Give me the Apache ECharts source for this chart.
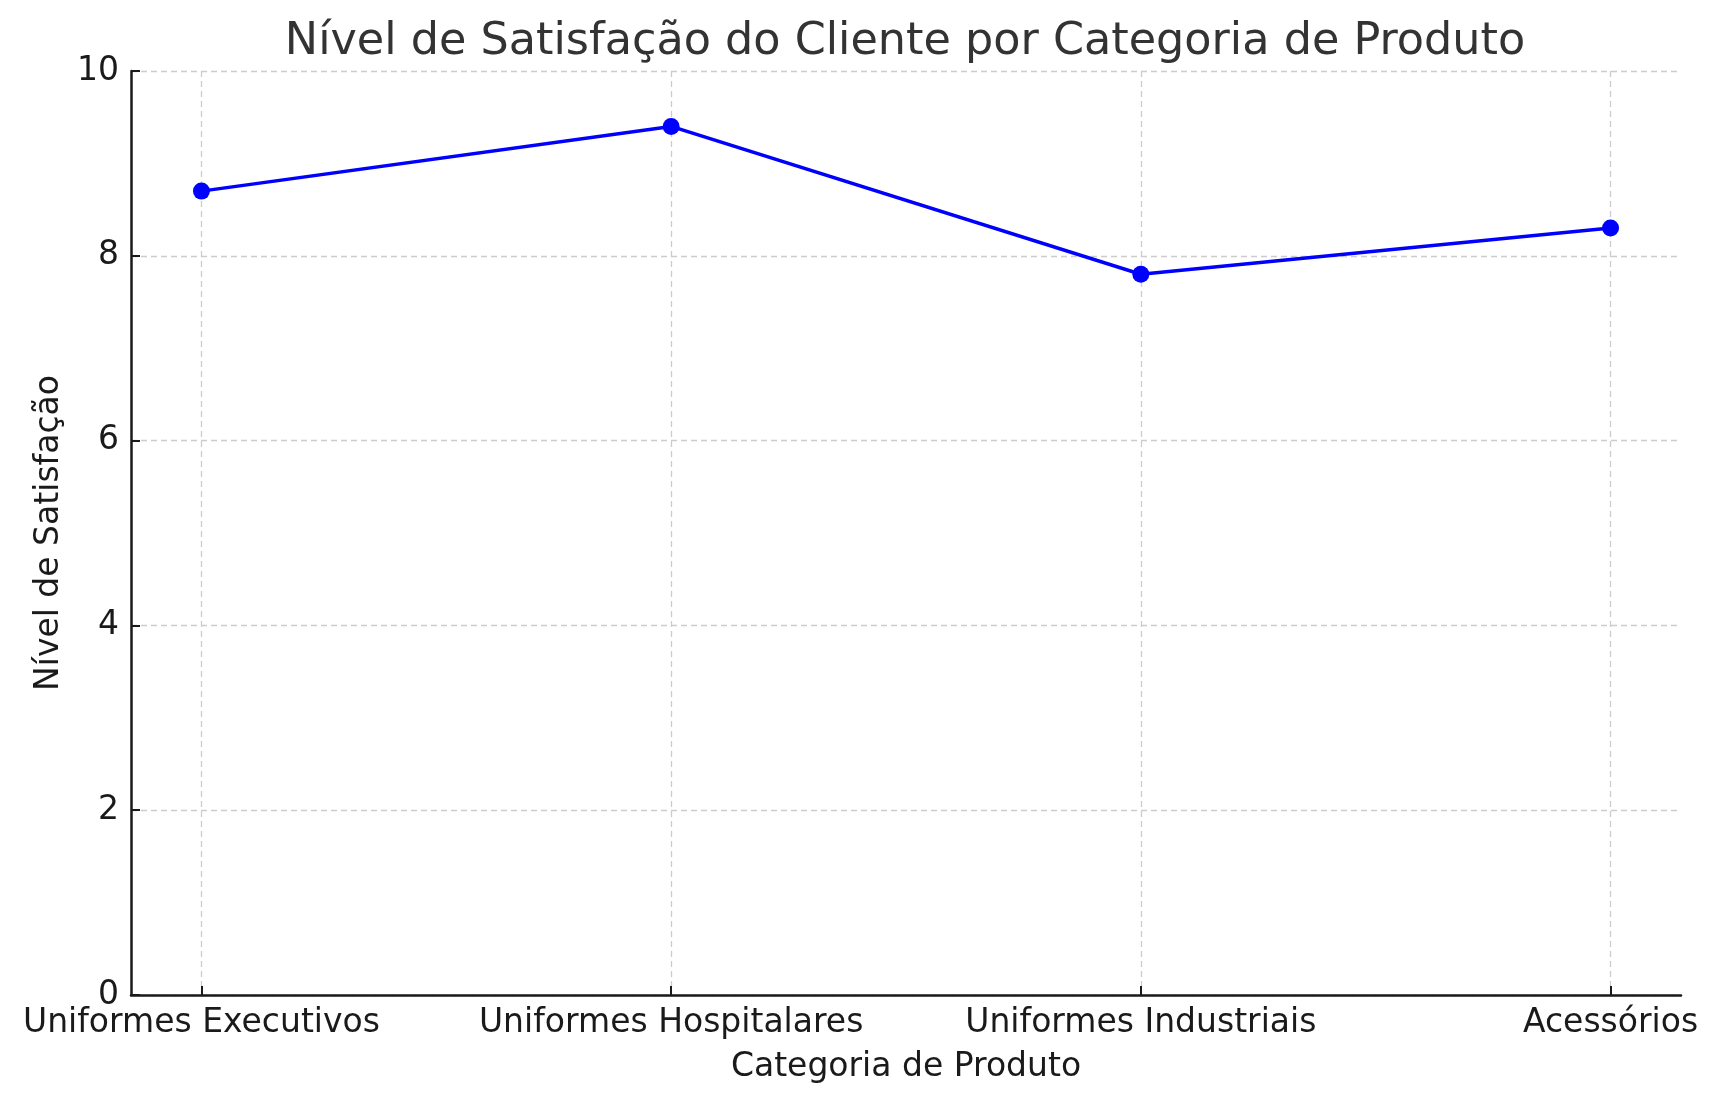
<!DOCTYPE html>
<html>
<head>
<meta charset="utf-8">
<script src="https://cdn.jsdelivr.net/npm/echarts@6/dist/echarts.min.js"></script>
<style>
html,body{margin:0;padding:0;background:#fff;}
#c{width:1718px;height:1102px;}
</style>
</head>
<body>
<div id="c"></div>
<script>
const titleText = 'Nível de Satisfação do Cliente por Categoria de Produto';
const xAxisName = 'Categoria de Produto';
const yAxisName = 'Nível de Satisfação';
const categories = ['Uniformes Executivos', 'Uniformes Hospitalares', 'Uniformes Industriais', 'Acessórios'];
const satisfaction = [8.7, 9.4, 7.8, 8.3];
const yTicks = [0, 2, 4, 6, 8, 10];

const positions = categories.map((c, i) => i);
const seriesData = satisfaction.map((v, i) => [positions[i], v]);
const FONT = 'DejaVu Sans';

const chart = echarts.init(document.getElementById('c'), null, {renderer: 'canvas'});
chart.setOption({
  backgroundColor: '#ffffff',
  animation: false,
  title: {
    text: titleText,
    left: 900, textAlign: 'center',
    top: 15,
    textStyle: {fontFamily: FONT, fontSize: 44.5, fontWeight: 'normal', color: '#333333'}
  },
  grid: {left: 131, right: 37, top: 71, bottom: 107, containLabel: false},
  xAxis: {
    type: 'value',
    min: -0.15, max: 3.15,
    name: xAxisName,
    nameLocation: 'middle',
    nameGap: 56,
    nameTextStyle: {fontFamily: FONT, fontSize: 33, color: '#1a1a1a'},
    axisLine: {show: true, onZero: false, lineStyle: {color: '#1a1a1a', width: 2.5}},
    axisTick: {show: true, inside: true, length: 9, customValues: positions, lineStyle: {color: '#1a1a1a', width: 2}},
    axisLabel: {
      customValues: positions,
      margin: 12,
      fontFamily: FONT, fontSize: 33, color: '#1a1a1a',
      formatter: v => categories[Math.round(v)]
    },
    splitLine: {show: true, lineStyle: {color: '#cccccc', type: [6, 4], width: 1.3}}
  },
  yAxis: {
    type: 'value',
    min: 0, max: 10, interval: 2,
    name: yAxisName,
    nameLocation: 'middle',
    nameGap: 65,
    nameTextStyle: {fontFamily: FONT, fontSize: 33, color: '#1a1a1a'},
    axisLine: {show: true, onZero: false, lineStyle: {color: '#1a1a1a', width: 2.5}},
    axisTick: {show: true, inside: true, length: 9, lineStyle: {color: '#1a1a1a', width: 2}},
    axisLabel: {
      margin: 12,
      fontFamily: FONT, fontSize: 33, color: '#1a1a1a',
      customValues: yTicks
    },
    splitLine: {show: true, lineStyle: {color: '#cccccc', type: [6, 4], width: 1.3}}
  },
  series: [{
    type: 'line',
    data: seriesData,
    symbol: 'circle',
    symbolSize: 17,
    lineStyle: {color: '#0000ff', width: 3.5},
    itemStyle: {color: '#0000ff'},
    z: 5
  }]
});
</script>
</body>
</html>
